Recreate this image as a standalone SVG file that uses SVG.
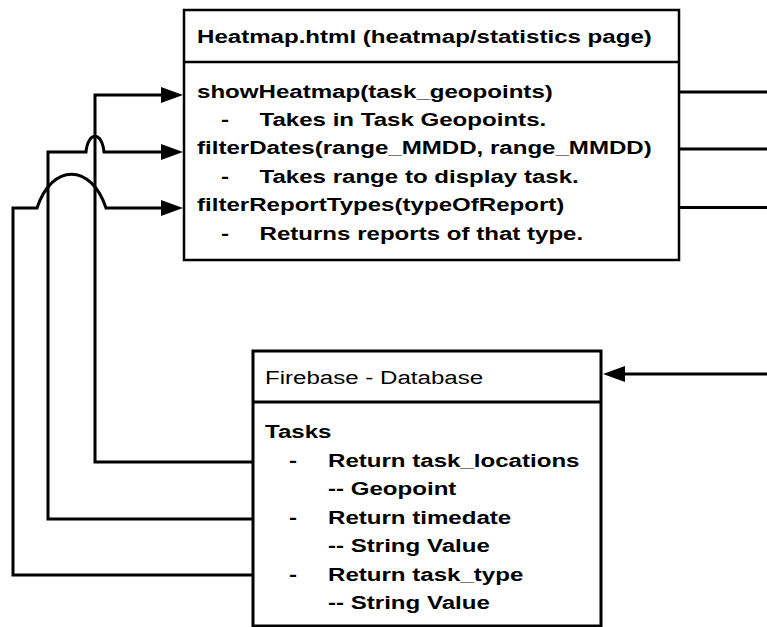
<svg xmlns="http://www.w3.org/2000/svg" width="767" height="627" viewBox="0 0 767 627">
<style>
.box{fill:#fff;stroke:#000}
.t{font-family:"Liberation Sans",Arial,sans-serif;font-size:18px;fill:#000}
.b{font-weight:bold}
.conn{fill:none;stroke:#000;stroke-width:3}
</style>
<defs>
<marker id="arr" markerUnits="userSpaceOnUse" markerWidth="22" markerHeight="16" refX="14" refY="8" orient="auto">
<path d="M0,0 L22,8 L0,16 z" fill="#000"/>
</marker>
</defs>
<rect width="767" height="627" fill="#fff"/>
<g id="connectors">
<path class="conn" d="M253,462 H95 V95 H175" marker-end="url(#arr)"/>
<path class="conn" d="M253,519 H48 V152 H86 C88,131 102,131 104,152 H175" marker-end="url(#arr)"/>
<path class="conn" d="M253,575 H13 V208 H37 C52,163 91,163 106,208 H175" marker-end="url(#arr)"/>
<path class="conn" d="M679,92 H767"/>
<path class="conn" d="M679,149 H767"/>
<path class="conn" d="M679,207.5 H767"/>
<path class="conn" d="M767,374 H611" marker-end="url(#arr)"/>
</g>
<g id="heatmap">
<rect class="box" x="184" y="10" width="495" height="250" stroke-width="2.5"/>
<line x1="184" y1="62" x2="679" y2="62" stroke="#000" stroke-width="2.5"/>
<text class="t b" transform="translate(197,43) scale(1.338,1)">Heatmap.html (heatmap/statistics page)</text>
<text class="t b" transform="translate(197,97.5) scale(1.338,1)">showHeatmap(task_geopoints)</text>
<text class="t b" transform="translate(221,125.5) scale(1.338,1)">-</text>
<text class="t b" transform="translate(259.5,125.5) scale(1.338,1)">Takes in Task Geopoints.</text>
<text class="t b" transform="translate(197,154) scale(1.338,1)">filterDates(range_MMDD, range_MMDD)</text>
<text class="t b" transform="translate(221,182.5) scale(1.338,1)">-</text>
<text class="t b" transform="translate(259.5,182.5) scale(1.338,1)">Takes range to display task.</text>
<text class="t b" transform="translate(197,211) scale(1.338,1)">filterReportTypes(typeOfReport)</text>
<text class="t b" transform="translate(221,239.5) scale(1.338,1)">-</text>
<text class="t b" transform="translate(259.5,239.5) scale(1.338,1)">Returns reports of that type.</text>
</g>
<g id="firebase">
<rect class="box" x="253" y="351" width="348" height="275" stroke-width="3"/>
<line x1="253" y1="402" x2="601" y2="402" stroke="#000" stroke-width="3"/>
<text class="t" transform="translate(265,384) scale(1.338,1)">Firebase - Database</text>
<text class="t b" transform="translate(265,438) scale(1.338,1)">Tasks</text>
<text class="t b" transform="translate(289,466.5) scale(1.338,1)">-</text>
<text class="t b" transform="translate(328,466.5) scale(1.338,1)">Return task_locations</text>
<text class="t b" transform="translate(328,495) scale(1.338,1)">-- Geopoint</text>
<text class="t b" transform="translate(289,523.5) scale(1.338,1)">-</text>
<text class="t b" transform="translate(328,523.5) scale(1.338,1)">Return timedate</text>
<text class="t b" transform="translate(328,552) scale(1.338,1)">-- String Value</text>
<text class="t b" transform="translate(289,580.5) scale(1.338,1)">-</text>
<text class="t b" transform="translate(328,580.5) scale(1.338,1)">Return task_type</text>
<text class="t b" transform="translate(328,609) scale(1.338,1)">-- String Value</text>
</g>
</svg>
